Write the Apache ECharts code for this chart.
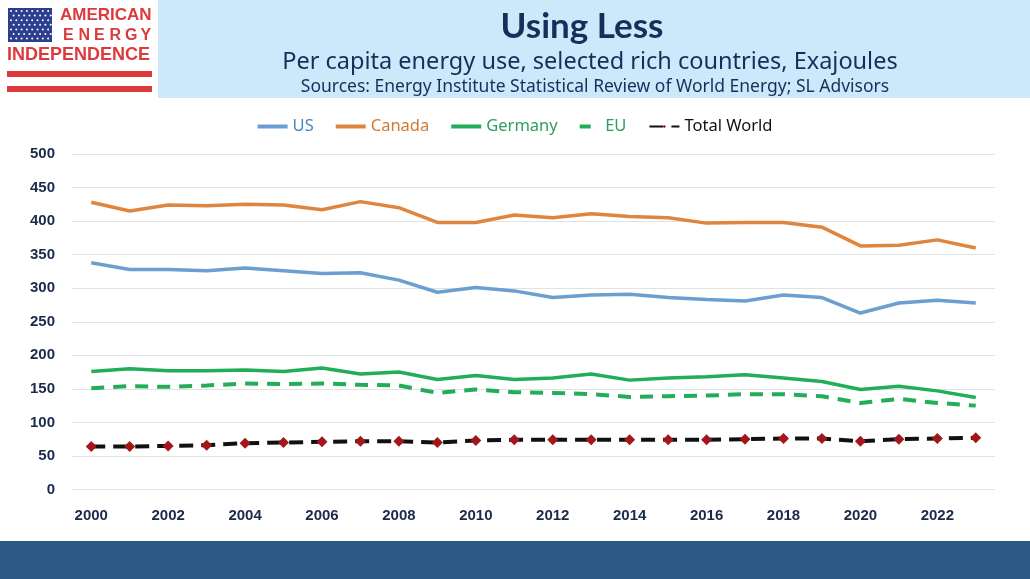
<!DOCTYPE html>
<html>
<head>
<meta charset="utf-8">
<script src="https://cdn.jsdelivr.net/npm/echarts@6/dist/echarts.min.js"></script>
<style>
  html, body { margin: 0; padding: 0; background: #fff; }
  #main { width: 1030px; height: 579px; }
</style>
</head>
<body>
<div id="main"></div>
<script>
var years = ['2000','2001','2002','2003','2004','2005','2006','2007','2008','2009','2010','2011',
             '2012','2013','2014','2015','2016','2017','2018','2019','2020','2021','2022','2023'];
var us      = [338,328,328,326,330,326,322,323,312,294,301,296,286,290,291,286,283,281,290,286,263,278,282,278];
var canada  = [428,415,424,423,425,424,417,429,420,398,398,409,405,411,407,405,397,398,398,391,363,364,372,360];
var germany = [176,180,177,177,178,176,181,172,175,164,170,164,166,172,163,166,168,171,166,161,149,154,147,137];
var eu      = [151,154,153,155,158,157,158,156,155,144,149,145,144,142,138,139,140,142,142,139,129,135,129,125];
var world   = [64,64,65,66,69,70,71,72,72,70,73,74,74,74,74,74,74,75,76,76,72,75,76,77];
var yTicks  = [0,50,100,150,200,250,300,350,400,450,500];

var navy = '#1b2a4a';
var cBlue = '#6a9fd0', cOrange = '#e0853d', cGreen = '#22ad58', cRed = '#a3161c';
var logoRed = '#dc3a3d';

var myChart = echarts.init(document.getElementById('main'));

// logo pieces: flag stars and spaced-out "ENERGY"
var stars = [];
for (var r = 0; r < 7; r++) {
  for (var c = 0; c < 8; c++) {
    stars.push({
      type: 'circle',
      shape: { cx: 11 + c * 5.3 + (r % 2) * 2.6, cy: 11 + r * 4.6, r: 1 },
      style: { fill: '#ffffff' }
    });
  }
}
var energy = 'ENERGY'.split('').map(function (ch, i) {
  return { type: 'text', left: 63 + i * 15.5, top: 28,
           style: { text: ch, fill: logoRed, font: 'bold 16px "Liberation Sans"' } };
});

var option = {
  animation: false,
  backgroundColor: '#ffffff',
  title: [
    { text: 'Using Less', left: 577, top: 4, textAlign: 'center',
      textStyle: { fontFamily: 'Lato', fontWeight: 'bold', fontSize: 35, color: '#14305a' } },
    { text: 'Per capita energy use, selected rich countries, Exajoules', left: 585, top: 45, textAlign: 'center',
      textStyle: { fontFamily: 'Noto Sans', fontWeight: 'normal', fontSize: 23.5, color: '#14305a' } },
    { text: 'Sources: Energy Institute Statistical Review of World Energy; SL Advisors', left: 590, top: 73, textAlign: 'center',
      textStyle: { fontFamily: 'Noto Sans', fontWeight: 'normal', fontSize: 17.5, color: '#14305a' } }
  ],
  graphic: [
    { type: 'rect', z: -10, shape: { x: 158, y: 0, width: 872, height: 98 }, style: { fill: '#cde8fb' } },
    { type: 'rect', z: -10, shape: { x: 0, y: 541, width: 1030, height: 38 }, style: { fill: '#2b5a87' } },
    { type: 'rect', shape: { x: 8, y: 8, width: 44, height: 34 }, style: { fill: '#2c3f8e' } },
    { type: 'group', children: stars },
    { type: 'group', children: energy },
    { type: 'text', left: 60, top: 7, style: { text: 'AMERICAN', fill: logoRed, font: 'bold 17px "Liberation Sans"' } },
    { type: 'text', left: 7, top: 46, style: { text: 'INDEPENDENCE', fill: logoRed, font: 'bold 18px "Liberation Sans"' } },
    { type: 'rect', shape: { x: 7, y: 71, width: 145, height: 6 }, style: { fill: logoRed } },
    { type: 'rect', shape: { x: 7, y: 86, width: 145, height: 6 }, style: { fill: logoRed } }
  ],
  legend: {
    top: 113,
    left: 'center',
    itemWidth: 30,
    itemHeight: 4,
    itemGap: 22,
    textStyle: { fontFamily: 'Noto Sans', fontSize: 16.5 },
    data: [
      { name: 'US', icon: 'rect', textStyle: { color: '#4a86bd' } },
      { name: 'Canada', icon: 'rect', textStyle: { color: '#d07a35' } },
      { name: 'Germany', icon: 'rect', textStyle: { color: '#2f9e5e' } },
      { name: 'EU', icon: 'path://M0,0H11V4H0Z', textStyle: { color: '#2f9e5e' } },
      { name: 'Total World', textStyle: { color: '#111111' } }
    ]
  },
  grid: { left: 72, right: 35, top: 154, bottom: 89.5 },
  xAxis: {
    type: 'category',
    data: years,
    boundaryGap: true,
    axisLine: { show: false },
    axisTick: { show: false },
    axisLabel: {
      interval: 1, margin: 19,
      fontFamily: 'Liberation Sans', fontWeight: 'bold', fontSize: 15, color: navy
    }
  },
  yAxis: {
    type: 'value',
    min: yTicks[0],
    max: yTicks[yTicks.length - 1],
    interval: 50,
    axisLine: { show: false },
    axisTick: { show: false },
    splitLine: { lineStyle: { color: '#e2e2e2', width: 1 } },
    axisLabel: {
      margin: 17,
      fontFamily: 'Liberation Sans', fontWeight: 'bold', fontSize: 15, color: navy
    }
  },
  series: [
    { name: 'US', type: 'line', data: us, showSymbol: false, symbol: 'none',
      itemStyle: { color: cBlue }, lineStyle: { color: cBlue, width: 3.5 } },
    { name: 'Canada', type: 'line', data: canada, showSymbol: false, symbol: 'none',
      itemStyle: { color: cOrange }, lineStyle: { color: cOrange, width: 3.5 } },
    { name: 'Germany', type: 'line', data: germany, showSymbol: false, symbol: 'none',
      itemStyle: { color: cGreen }, lineStyle: { color: cGreen, width: 3.5 } },
    { name: 'EU', type: 'line', data: eu, showSymbol: false, symbol: 'none',
      itemStyle: { color: cGreen }, lineStyle: { color: cGreen, width: 4, type: [13, 9] } },
    { name: 'Total World', type: 'line', data: world, symbol: 'diamond', symbolSize: 11, z: 5,
      itemStyle: { color: cRed },
      lineStyle: { color: '#111111', width: 4, type: [14, 8] } }
  ]
};

myChart.setOption(option);
</script>
</body>
</html>
